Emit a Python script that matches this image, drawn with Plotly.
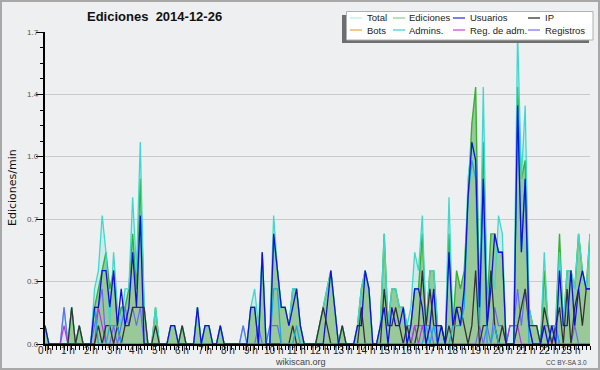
import plotly.graph_objects as go

# ---- data (edits per minute, 10-minute buckets, 2014-12-26) ----
MINUTES = list(range(0, 1440, 10))
HOUR_TICKS = list(range(0, 1440, 60))
HOUR_LABELS = ["0 h", "1 h", "2 h", "3 h", "4 h", "5 h", "6 h", "7 h", "8 h", "9 h", "10 h", "11 h",
               "12 h", "13 h", "14 h", "15 h", "16 h", "17 h", "18 h", "19 h", "20 h", "21 h", "22 h", "23 h"]
Y_TICKS = [0, 0.34, 0.68, 1.02, 1.36, 1.7]
Y_LABELS = ["0.0", "0.3", "0.7", "1.0", "1.4", "1.7"]

total = [0.1,0,0,0,0,0.2, 0,0.2,0,0.1,0,0, 0,0.3,0.4,0.7,0.5,0.1, 0.5,0.2,0.1,0.3,0.3,0.8,
         0.4,1.1,0.2,0,0,0.2, 0,0,0,0.1,0.1,0, 0.1,0,0,0,0.2,0, 0.1,0.1,0,0,0.1,0,
         0,0,0,0,0.1,0, 0.2,0.3,0.1,0.5,0,0.1, 0.7,0.4,0.2,0.2,0.1,0.3, 0.3,0.1,0,0,0,0,
         0.1,0.2,0.3,0.4,0.2,0, 0.1,0,0,0,0.1,0.3, 0.4,0.3,0,0,0.1,0.6, 0.1,0.3,0.3,0.2,0.2,0.1,
         0.2,0.5,0.4,0.7,0.1,0.4, 0.4,0.1,0.1,0,0.8,0.1, 0.1,0.1,0.3,0.9,1.1,1.0, 0.2,1.4,0.2,0.4,0.3,0.7,
         0.6,0,0.1,0.1,1.7,0.9, 1.3,0.2,0.1,0.1,0,0.5, 0.1,0.1,0.1,0.5,0.1,0.4, 0.4,0.3,0.6,0.4,0.3,0.6]
ediciones = [0.1,0,0,0,0,0, 0,0.2,0,0.1,0,0, 0,0.2,0.3,0.4,0.5,0.3, 0.4,0.1,0.2,0.2,0.3,0.6,
             0.3,0.9,0.2,0,0,0.2, 0,0,0,0.1,0.1,0, 0.1,0,0,0,0.2,0, 0.1,0.1,0,0,0.1,0,
             0,0,0,0,0,0, 0.2,0.2,0,0.5,0,0, 0.6,0.4,0.2,0.2,0.1,0.3, 0.3,0.1,0,0,0,0,
             0.1,0.2,0.3,0.4,0.2,0, 0.1,0,0,0,0.1,0.3, 0.4,0.3,0,0,0.1,0.6, 0.1,0.3,0.3,0.2,0.2,0.1,
             0.1,0.3,0.3,0.6,0.1,0.4, 0.4,0.1,0.1,0,0.6,0.1, 0.4,0.3,0.4,0.8,1.2,1.4, 0.2,1.1,0.2,0.6,0.6,0.5,
             0.5,0,0,0,1.4,0.9, 1.0,0.2,0.1,0.1,0,0.4, 0.1,0.1,0.1,0.6,0.1,0.4, 0.4,0.3,0.6,0.4,0.3,0.6]
usuarios = [0.1,0,0,0,0,0, 0,0,0,0,0,0, 0,0.2,0.2,0.4,0.4,0.2, 0.4,0.1,0.3,0.1,0.2,0.5,
            0.2,0.7,0,0,0,0, 0,0,0,0.1,0.1,0, 0,0,0,0,0.2,0, 0.1,0.1,0,0,0.1,0,
            0,0,0,0,0,0, 0.2,0.2,0,0.5,0,0, 0.6,0.4,0.2,0.2,0.1,0.2, 0.3,0.1,0,0,0,0,
            0,0,0.2,0.4,0.2,0, 0,0,0,0,0.1,0.1, 0.4,0.3,0,0,0.1,0.2, 0,0.2,0.1,0.1,0.2,0,
            0.1,0.3,0.3,0.2,0,0.1, 0.3,0,0.1,0,0.5,0.1, 0.2,0.1,0.3,0.8,1.1,1.0, 0.2,0.9,0.1,0.3,0.6,0.5,
            0.5,0,0,0,1.3,0.5, 0.9,0.1,0,0,0,0.1, 0,0.1,0,0.4,0.1,0.1, 0.4,0.1,0.3,0.4,0.3,0.3]
ip = [0,0,0,0,0,0, 0,0.2,0,0.1,0,0, 0,0,0.1,0,0.1,0.1, 0,0.1,0,0.1,0.1,0.2,
      0.2,0.2,0.2,0,0,0.1, 0,0,0,0,0,0, 0.1,0,0,0,0,0, 0,0,0,0,0,0,
      0,0,0,0,0,0, 0,0,0,0,0,0, 0,0,0,0,0,0.1, 0,0,0,0,0,0,
      0.1,0.2,0.1,0,0,0, 0.1,0,0,0,0,0.2, 0,0,0,0,0,0.3, 0.1,0.1,0.2,0.1,0,0.1,
      0,0,0.1,0.4,0.1,0.3, 0.1,0.1,0.1,0,0.1,0, 0.2,0.2,0.1,0,0.1,0.4, 0,0.1,0.1,0.4,0.1,0,
      0.1,0,0,0,0.1,0.2, 0.3,0.1,0.1,0.1,0,0.2, 0.1,0,0.1,0.2,0,0.3, 0,0.2,0.3,0.1,0.3,0.3]
bots = [0] * 144
admins = [0,0,0,0,0,0, 0,0,0,0,0,0, 0,0.2,0,0,0,0.1, 0.1,0.1,0,0,0,0,
          0,0,0,0,0,0, 0,0,0,0,0,0, 0,0,0,0,0,0, 0,0,0,0,0,0,
          0,0,0,0,0,0, 0,0,0,0,0,0, 0.3,0.3,0,0,0,0, 0.1,0,0,0,0,0,
          0,0,0,0,0,0, 0,0,0,0,0,0, 0,0,0,0,0,0, 0,0,0,0,0,0,
          0,0,0,0,0.1,0, 0.1,0,0,0,0,0.1, 0.1,0.1,0.2,0.8,1.0,0.9, 0.1,0.9,0,0,0.1,0,
          0,0,0,0,1.3,0.5, 0.9,0,0,0,0,0, 0,0.1,0.1,0,0,0, 0,0,0,0,0,0]
reg_adm = [0,0,0,0,0,0.1, 0,0,0,0,0,0, 0,0,0.2,0.1,0,0, 0,0,0,0,0,0,
           0,0,0,0,0,0, 0,0,0,0,0,0, 0,0,0,0,0,0, 0,0,0,0,0,0,
           0,0,0,0,0,0, 0,0,0,0,0,0, 0,0,0,0,0,0, 0,0,0,0,0,0,
           0,0,0,0,0,0, 0,0,0,0,0,0, 0,0,0,0,0,0, 0,0,0,0,0,0,
           0,0.1,0,0.1,0,0, 0,0,0,0,0,0, 0,0,0,0,0,0, 0,0,0,0,0,0,
           0,0,0.1,0.1,0.1,0, 0,0,0,0,0,0, 0,0,0,0,0,0, 0,0,0,0,0,0]
registros = [0,0,0,0,0,0.2, 0,0,0,0,0,0, 0,0.1,0.2,0.3,0,0, 0.1,0,0.1,0.2,0.1,0.2,
             0.1,0.2,0,0,0,0, 0,0,0,0,0,0, 0,0,0,0,0,0, 0,0,0,0,0,0,
             0,0,0,0,0.1,0, 0,0,0.1,0,0,0.1, 0.1,0.1,0,0,0,0, 0,0,0,0,0,0,
             0,0,0,0,0,0, 0,0,0,0,0,0, 0,0,0,0,0,0, 0,0,0,0,0,0,
             0,0.1,0.1,0.1,0.1,0.1, 0,0,0,0,0,0, 0,0,0,0,0,0, 0.1,0,0.1,0,0.2,0.1,
             0.1,0,0.1,0.1,0.3,0.1, 0.3,0.1,0,0,0,0.1, 0.1,0,0.1,0,0,0, 0,0.1,0,0,0,0]

LEGEND_ROWS = [["Total", "Ediciones", "Usuarios", "IP"],
               ["Bots", "Admins.", "Reg. de adm.", "Registros"]]

# ---- styles ----
C_TOTAL = "#3fd8cc"
C_TOTAL_FILL = "rgba(120,225,215,0.28)"
C_EDIT_FILL = "#99c999"
C_EDIT = "#33b233"
C_USER = "#1010dd"
C_IP = "#333333"
C_BOTS = "#ff9933"
C_ADMIN = "#14aee0"
C_REGADM = "#c030e8"
C_LOGS = "#6a6af4"
LEG_COLORS = [["#b4ece6", "#8ccf8c", "#2a2ae0", "#222222"],
              ["#f0a040", "#44c8d4", "#cc44e0", "#7070f0"]]

FONT = "Liberation Sans, Arial, sans-serif"
L, R, T, B = 45, 10, 32, 26
W, H = 600, 370
PW, PH = W - L - R, H - T - B


def px(x):
    return (x - L) / PW


def py(y):
    return (H - B - y) / PH


fig = go.Figure()
fig.add_trace(go.Scatter(x=MINUTES, y=total, mode="lines", line=dict(width=0, color=C_TOTAL),
                         fill="tozeroy", fillcolor=C_TOTAL_FILL, showlegend=False, hoverinfo="skip"))
fig.add_trace(go.Scatter(x=MINUTES, y=ediciones, mode="lines", name="Ediciones",
                         line=dict(width=1.4, color=C_EDIT), fill="tozeroy", fillcolor=C_EDIT_FILL,
                         showlegend=False))
fig.add_trace(go.Scatter(x=MINUTES, y=bots, mode="lines", name="Bots", line=dict(width=1.2, color=C_BOTS),
                         showlegend=False))
fig.add_trace(go.Scatter(x=MINUTES, y=total, mode="lines", name="Total", line=dict(width=1.3, color=C_TOTAL),
                         showlegend=False))
fig.add_trace(go.Scatter(x=MINUTES, y=registros, mode="lines", name="Registros",
                         line=dict(width=1.2, color=C_LOGS), showlegend=False))
fig.add_trace(go.Scatter(x=MINUTES, y=reg_adm, mode="lines", name="Reg. de adm.",
                         line=dict(width=1.2, color=C_REGADM), showlegend=False))
fig.add_trace(go.Scatter(x=MINUTES, y=ip, mode="lines", name="IP", line=dict(width=1.3, color=C_IP),
                         showlegend=False))
fig.add_trace(go.Scatter(x=MINUTES, y=admins, mode="lines", name="Admins.",
                         line=dict(width=1.3, color=C_ADMIN), showlegend=False))
fig.add_trace(go.Scatter(x=MINUTES, y=usuarios, mode="lines", name="Usuarios",
                         line=dict(width=1.3, color=C_USER), showlegend=False))

shapes = []
annotations = []

# outer frame
shapes.append(dict(type="rect", xref="paper", yref="paper", x0=px(0), x1=px(W), y0=py(H), y1=py(0),
                   line=dict(color="#a8a8a8", width=4), layer="above"))

# legend box (shadow + box)
shapes.append(dict(type="rect", xref="paper", yref="paper", x0=px(342), x1=px(589), y0=py(43), y1=py(15),
                   line=dict(width=0), fillcolor="#6e6e6e", layer="above"))
shapes.append(dict(type="rect", xref="paper", yref="paper", x0=px(346.5), x1=px(593), y0=py(40), y1=py(11.5),
                   line=dict(width=1, color="#b0b0b0"), fillcolor="#ffffff", layer="above"))
col_sw = [350, 393, 453, 528]
col_tx = [365.5, 408, 468.5, 544]
row_y = [18.0, 30.0]
for r, row in enumerate(LEGEND_ROWS):
    for c, label in enumerate(row):
        shapes.append(dict(type="line", xref="paper", yref="paper", x0=px(col_sw[c]), x1=px(col_sw[c] + 12),
                           y0=py(row_y[r]), y1=py(row_y[r]), line=dict(color=LEG_COLORS[r][c], width=1.2),
                           layer="above"))
        annotations.append(dict(text=label, xref="paper", yref="paper", x=px(col_tx[c]), y=py(row_y[r]),
                                xanchor="left", yanchor="middle", showarrow=False, borderpad=0,
                                font=dict(family=FONT, size=9.5, color="#222222")))

# hour labels on the time axis
for t, lab in zip(HOUR_TICKS, HOUR_LABELS):
    annotations.append(dict(text=lab, xref="x", yref="paper", x=t, y=py(350.5), xanchor="center",
                            yanchor="middle", showarrow=False,
                            font=dict(family=FONT, size=10, color="#222222")))
# value labels on the y axis
for v, lab in zip(Y_TICKS, Y_LABELS):
    annotations.append(dict(text=lab, xref="paper", yref="y", x=px(40.5), y=v, xanchor="right",
                            yanchor="middle", showarrow=False,
                            font=dict(family=FONT, size=8, color="#555555")))

annotations.append(dict(text="<b>Ediciones\u00a0 2014-12-26</b>", xref="paper", yref="paper", x=px(154),
                        y=py(16.5), xanchor="center", yanchor="middle", showarrow=False,
                        font=dict(family=FONT, size=13, color="#111111")))
annotations.append(dict(text="Ediciones/min", xref="paper", yref="paper", x=px(12), y=py(188),
                        xanchor="center", yanchor="middle", textangle=-90, showarrow=False,
                        font=dict(family="DejaVu Sans, sans-serif", size=11, color="#111111")))
annotations.append(dict(text="wikiscan.org", xref="paper", yref="paper", x=px(300.5), y=py(362),
                        xanchor="center", yanchor="middle", showarrow=False,
                        font=dict(family=FONT, size=9, color="#444444")))
annotations.append(dict(text="CC BY-SA 3.0", xref="paper", yref="paper", x=px(589), y=py(362.5),
                        xanchor="right", yanchor="middle", showarrow=False,
                        font=dict(family=FONT, size=6.5, color="#444444")))

fig.update_layout(
    width=W, height=H, margin=dict(l=L, r=R, t=T, b=B, pad=0),
    paper_bgcolor="#eeeff0", plot_bgcolor="#eeeff1",
    showlegend=False, shapes=shapes, annotations=annotations,
    xaxis=dict(range=[0, 1430], showline=True, linecolor="#000000", linewidth=2, mirror=False,
               automargin=False, tickmode="array", tickvals=HOUR_TICKS, showticklabels=False,
               ticks="outside", ticklen=5, tickwidth=1, tickcolor="#000000", showgrid=False,
               zeroline=False,
               minor=dict(tick0=0, dtick=10, ticks="outside", ticklen=4, tickwidth=1,
                          tickcolor="#000000", showgrid=False)),
    yaxis=dict(range=[0, 1.7], showline=True, linecolor="#000000", linewidth=2, automargin=False,
               tickmode="array", tickvals=Y_TICKS, showticklabels=False, ticks="outside",
               ticklen=7, tickwidth=1, tickcolor="#000000", showgrid=True, gridcolor="#cacaca",
               gridwidth=1, zeroline=False,
               minor=dict(tick0=0, dtick=0.085, ticks="outside", ticklen=3, tickwidth=1,
                          tickcolor="#000000", showgrid=False)),
)

fig.write_html("out.html", config={"displayModeBar": False},
               post_script="document.body.style.margin='0';document.body.style.padding='0';"
                           "document.documentElement.style.overflow='hidden';")
